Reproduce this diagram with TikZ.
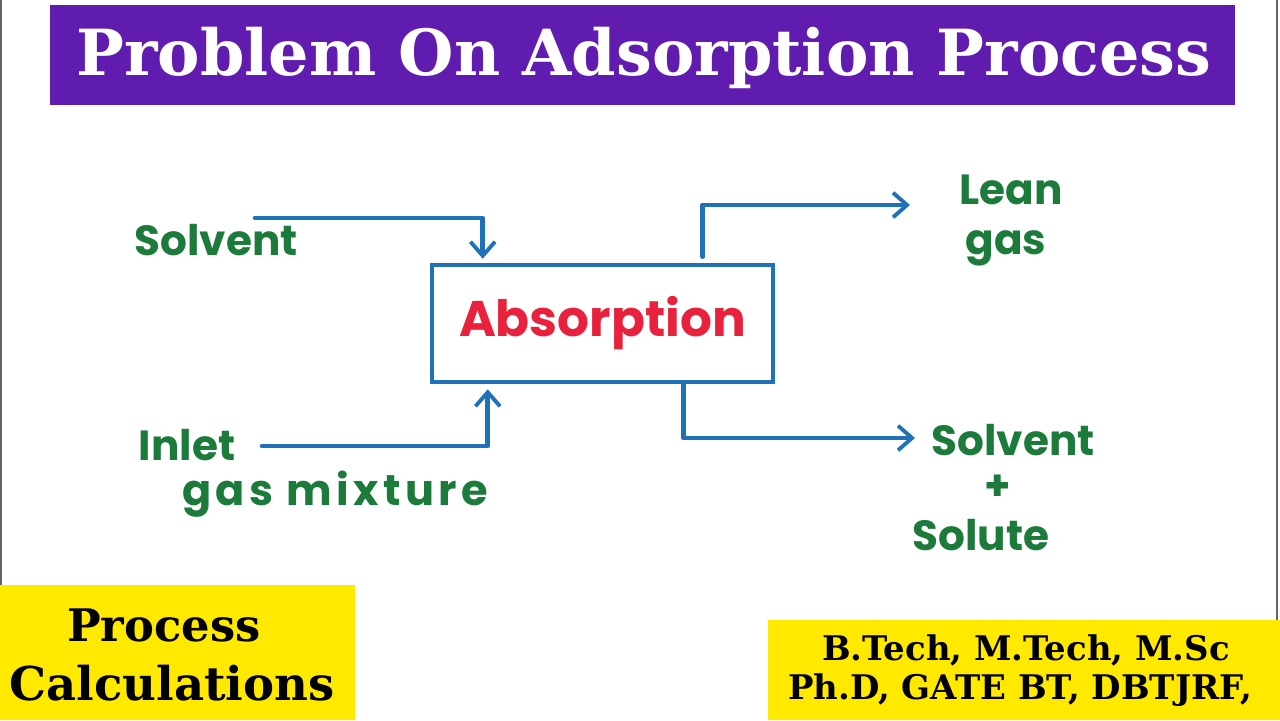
\documentclass[tikz,border=0pt]{standalone}
\usepackage{fontspec}
\usetikzlibrary{arrows.meta,calc}
\newfontfamily\slabfont{DejaVu Serif}
\newfontfamily\handfont{Poppins}
\newfontfamily\handwidefont[LetterSpace=10]{Poppins}
\definecolor{titlepurple}{HTML}{5F1CAF}
\definecolor{tagyellow}{HTML}{FFE900}
\definecolor{penblue}{HTML}{1F72B8}
\definecolor{pengreen}{HTML}{1C7A3B}
\definecolor{penred}{HTML}{E8213C}
\tikzset{
  flow/.style={draw=penblue, line width=2.6pt, line cap=round, line join=round,
    -{Straight Barb[length=8pt,width=14pt,line width=2.2pt]}},
  hand/.style={text=pengreen, font=\handfont\bfseries\fontsize{24}{28}\selectfont, inner sep=0pt, align=center},
  procbox/.style={draw=penblue, line width=2.6pt, minimum width=6.82cm, minimum height=2.34cm,
    text=penred, font=\handfont\bfseries\fontsize{28.5}{33}\selectfont},
  tag/.style={fill=tagyellow, inner sep=0pt},
  tagtext/.style={font=\slabfont\bfseries, text=black, inner sep=0pt, align=center},
  frameline/.style={draw=black!60, line width=0.8pt}
}
\begin{document}
\begin{tikzpicture}[x=0.02cm,y=-0.02cm]
\useasboundingbox (0,0) rectangle (1280,720);
\fill[white] (0,0) rectangle (1280,720);
% frame lines
\draw[frameline] (1,0) -- (1,585);
\draw[frameline] (1277,0) -- (1277,620);
% title bar
\fill[titlepurple] (50,5) rectangle (1235,105);
\node[text=white, font=\slabfont\bfseries\fontsize{36.2}{40}\selectfont, inner sep=0pt] (title) at (644,58) {Problem On Adsorption Process};
% bottom tags
\fill[tag] (0,585) rectangle (355,720);
\node[tagtext, font=\slabfont\bfseries\fontsize{25.5}{30}\selectfont] (pc1) at (164,625) {Process};
\node[tagtext, font=\slabfont\bfseries\fontsize{26.5}{30}\selectfont] (pc2) at (172,683) {Calculations};
\fill[tag] (768,620) rectangle (1280,720);
\node[tagtext, font=\slabfont\bfseries\fontsize{19.3}{23}\selectfont] (deg1) at (1026,650) {B.Tech, M.Tech, M.Sc};
\node[tagtext, font=\slabfont\bfseries\fontsize{19.3}{23}\selectfont] (deg2) at (1020,690) {Ph.D, GATE BT, DBTJRF,};
% process box
\node[procbox] (box) at (602.5,323.5) {Absorption};
% labels
\node[hand] (solv) at (216,240) {Solvent};
\node[hand] (inlet) at (187,445) {Inlet};
\node[hand, font=\handwidefont\bfseries\fontsize{24.5}{28}\selectfont] (gasmix) at (335,494) {gas mixture};
\node[hand] (lean) at (1011,190) {Lean};
\node[hand] (leangas) at (1006,248) {gas};
\node[hand] (solv2) at (1013,440) {Solvent};
\node[hand] (plus) at (998,488) {+};
\node[hand] (solute) at (981,535) {Solute};
% connector endpoints
\coordinate (s0) at (255,218);
\coordinate (i0) at (262,446);
\coordinate (l1) at (910,205);
\coordinate (o1) at (915,438);
% connectors
\draw[flow] (s0) -| ($(box.north west)+(53,-4)$);
\draw[flow] (i0) -| ($(box.south west)+(58,5)$);
\draw[flow] ($(box.north west)+(273,-6)$) |- (l1);
\draw[flow] ($(box.south west)+(254,-2)$) |- (o1);
\end{tikzpicture}
\end{document}
